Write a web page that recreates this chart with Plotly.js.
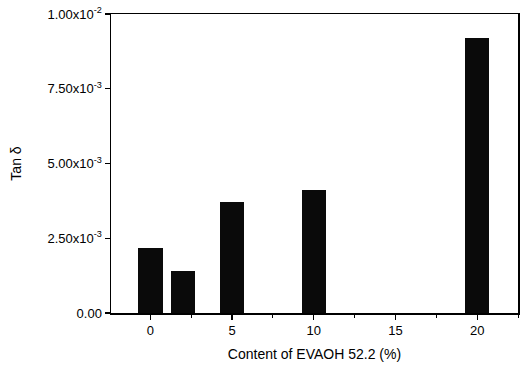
<!DOCTYPE html>
<html>
<head>
<meta charset="utf-8">
<script src="https://cdn.plot.ly/plotly-3.0.1.min.js"></script>
<style>html,body{margin:0;padding:0;background:#fff;}#chart{width:524px;height:370px;}</style>
</head>
<body>
<div id="chart"></div>
<script>
const contents = [0, 2, 5, 10, 20];
const tanDelta = [0.00217, 0.00141, 0.00371, 0.00412, 0.00920];
const yTickVals = [0, 0.0025, 0.005, 0.0075, 0.01];
const yTickText = ["0.00", "2.50x10<sup>-3</sup>", "5.00x10<sup>-3</sup>", "7.50x10<sup>-3</sup>", "1.00x10<sup>-2</sup>"];
const xTickVals = [0, 5, 10, 15, 20];

const trace = {
  type: 'bar',
  x: contents,
  y: tanDelta,
  width: 1.5,
  marker: {color: '#0a0a0a', line: {width: 0}}
};

const layout = {
  width: 524, height: 370,
  margin: {l: 111, r: 6, t: 14, b: 57},
  paper_bgcolor: '#fff', plot_bgcolor: '#fff',
  font: {family: 'Liberation Sans, Arial, sans-serif', color: '#000', size: 12},
  showlegend: false,
  xaxis: {
    range: [-2.41, 22.5],
    tickvals: xTickVals,
    ticktext: xTickVals.map(String),
    ticks: 'outside', ticklen: 5, tickwidth: 1.2, tickcolor: '#000',
    minor: {ticks: 'outside', ticklen: 3, tickwidth: 1, tickcolor: '#000', dtick: 2.5, tick0: 0},
    showline: true, linecolor: '#000', linewidth: 1.5, mirror: true,
    showgrid: false, zeroline: false,
    tickfont: {size: 13},
    title: {text: 'Content of EVAOH 52.2 (%)', font: {size: 14}, standoff: 12}
  },
  yaxis: {
    range: [0, 0.01],
    tickvals: yTickVals,
    ticktext: yTickText,
    ticks: 'outside', ticklen: 5, tickwidth: 1.2, tickcolor: '#000',
    showline: true, linecolor: '#000', linewidth: 1.5, mirror: true,
    showgrid: false, zeroline: false,
    tickfont: {size: 13},
    title: {text: 'Tan δ', font: {size: 14}, standoff: 22}
  },
  bargap: 0
};

Plotly.newPlot('chart', [trace], layout, {displayModeBar: false, staticPlot: true});
</script>
</body>
</html>
